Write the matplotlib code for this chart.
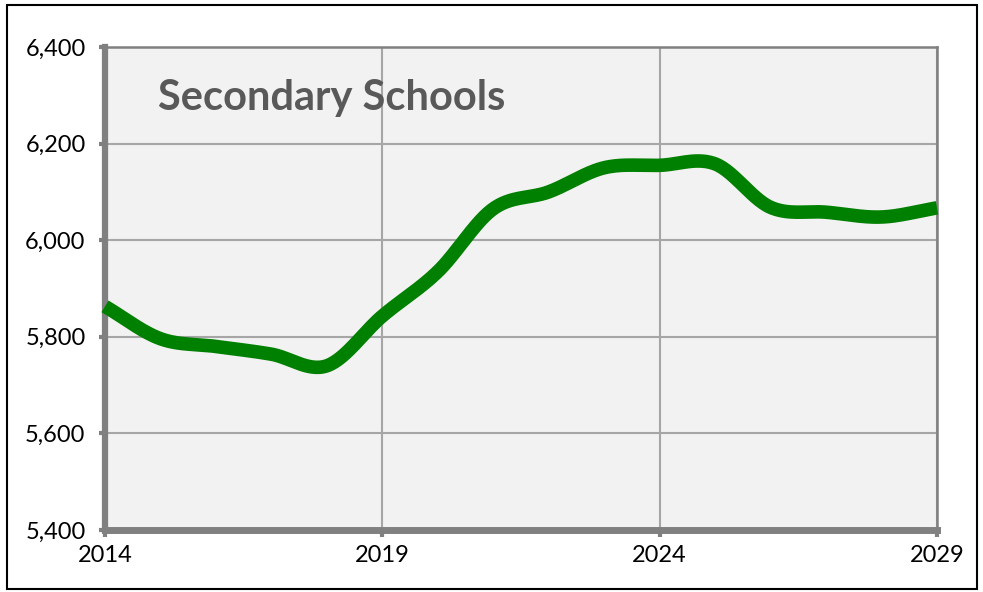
import numpy as np
import matplotlib
matplotlib.use("Agg")
import matplotlib.pyplot as plt
from matplotlib.patches import Rectangle
from matplotlib import font_manager

years = [2014, 2015, 2016, 2017, 2018, 2019, 2020, 2021, 2022, 2023, 2024, 2025, 2026, 2027, 2028, 2029]
enrolment = [5863, 5796, 5780, 5764, 5740, 5843, 5935, 6065, 6100, 6150, 6155, 6158, 6068, 6058, 6048, 6067]
title = "Secondary Schools"
yticks = [5400, 5600, 5800, 6000, 6200, 6400]
xticks = [2014, 2019, 2024, 2029]

names = {f.name for f in font_manager.fontManager.ttflist}
narrow = 'Liberation Sans Narrow' if 'Liberation Sans Narrow' in names else 'Lato'


def catmull_rom(x, y, n=30):
    x = np.asarray(x, float); y = np.asarray(y, float)
    px = np.concatenate([[2 * x[0] - x[1]], x, [2 * x[-1] - x[-2]]])
    py = np.concatenate([[2 * y[0] - y[1]], y, [2 * y[-1] - y[-2]]])
    xs, ys = [], []
    t = np.linspace(0, 1, n, endpoint=False)
    for i in range(1, len(px) - 2):
        p0, p1, p2, p3 = [np.array([px[j], py[j]]) for j in range(i - 1, i + 3)]
        c1 = p1 + (p2 - p0) / 6
        c2 = p2 - (p3 - p1) / 6
        b = ((1 - t) ** 3)[:, None] * p1 + (3 * (1 - t) ** 2 * t)[:, None] * c1 + \
            (3 * (1 - t) * t ** 2)[:, None] * c2 + (t ** 3)[:, None] * p2
        xs.extend(b[:, 0]); ys.extend(b[:, 1])
    xs.append(x[-1]); ys.append(y[-1])
    return np.array(xs), np.array(ys)


W, H = 983, 592
fig = plt.figure(figsize=(W / 100, H / 100), dpi=100)
fig.patch.set_facecolor('white')
fig.patches.append(Rectangle((7 / W, 1 - 589 / H), 970 / W, 584 / H, transform=fig.transFigure,
                             fill=False, edgecolor='black', linewidth=1.5))

L, R, T, B = 105, 937, 47, 530
ax = fig.add_axes([L / W, 1 - B / H, (R - L) / W, (B - T) / H])
ax.set_facecolor('#F2F2F2')

sx, sy = catmull_rom(years, enrolment)
ax.plot(sx, sy, color='#008000', linewidth=9.8, solid_capstyle='butt', zorder=3, clip_on=False)

ax.set_xlim(2014, 2029)
ax.set_ylim(5400, 6400)
ax.set_xticks(xticks)
ax.set_yticks(yticks)
ax.set_xticklabels([str(v) for v in xticks], fontfamily=narrow, fontsize=17)
ax.set_yticklabels([f"{v:,}" for v in yticks], fontfamily=narrow, fontsize=17)
ax.grid(True, color='#A6A6A6', linewidth=1.5, zorder=1)
ax.set_axisbelow(True)

for s in ['top', 'right']:
    ax.spines[s].set_color('#808080')
    ax.spines[s].set_linewidth(1.8)
ax.spines['left'].set_color('#808080')
ax.spines['left'].set_linewidth(4.5)
ax.spines['bottom'].set_color('#808080')
ax.spines['bottom'].set_linewidth(5)
ax.tick_params(axis='y', length=4, width=3, color='#808080', pad=10, labelcolor='black')
ax.tick_params(axis='x', length=5, width=3, color='#808080', pad=6, labelcolor='black')

ax.text((158 - L) / (R - L), 1 - (98 - T) / (B - T), title, transform=ax.transAxes,
        fontsize=30, fontweight='bold', color='#595959', fontfamily='Lato', va='center', ha='left')

fig.savefig('out.png', dpi=100, facecolor='white')
